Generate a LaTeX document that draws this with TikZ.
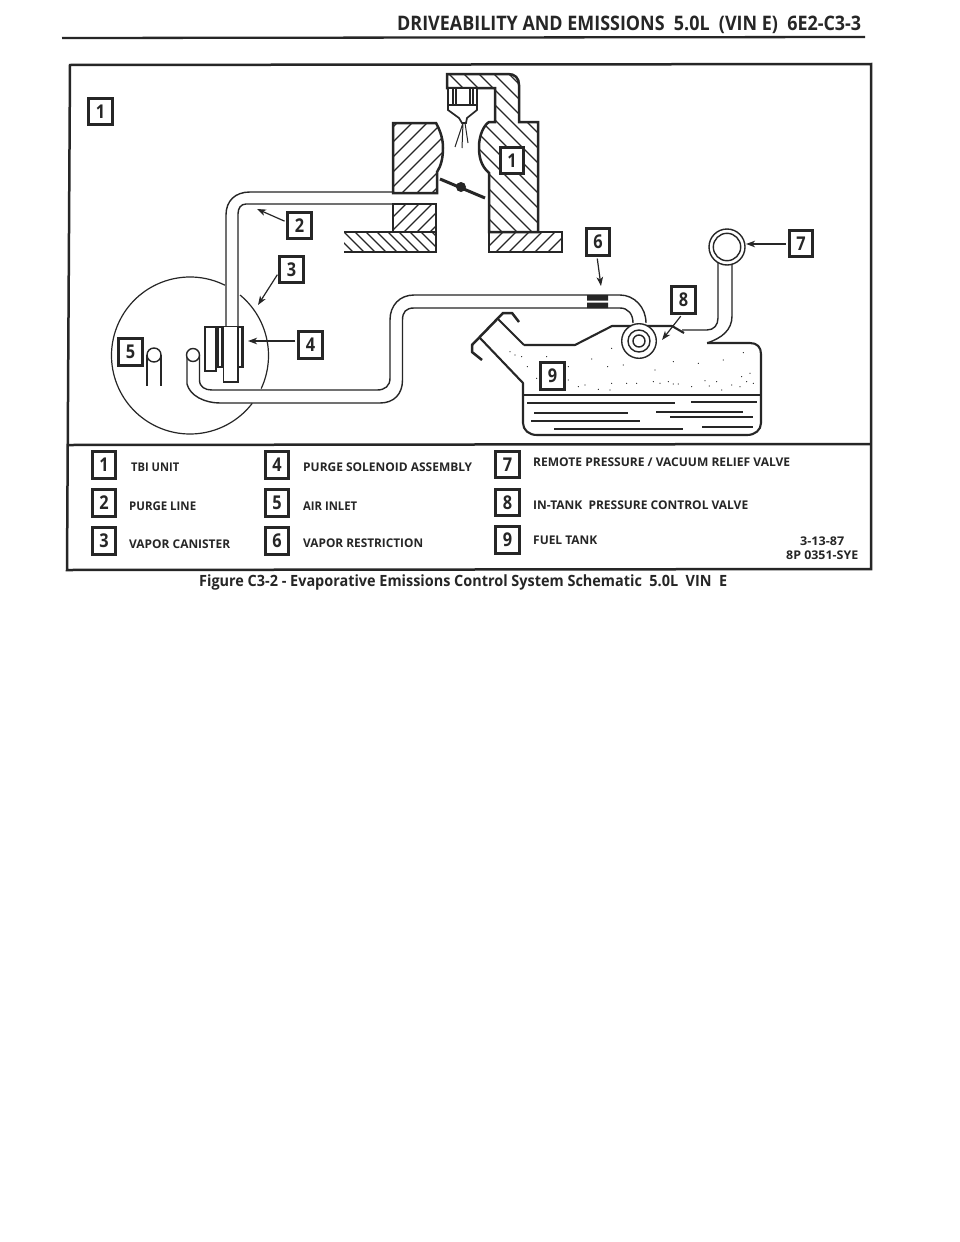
\documentclass[tikz,border=0pt]{standalone}
\usepackage{fontspec}
\usepackage{graphicx}
\setmainfont{Open Sans}
\usetikzlibrary{arrows.meta}
\definecolor{ink}{HTML}{262626}
\newcommand{\fitw}[2]{\resizebox{#1pt}{\height}{#2}}
\newcommand{\digit}[1]{\scalebox{0.86}[1]{#1}}
% hatching inside the current clip: lines at 45 degrees
\newcommand{\hatchne}[5]{\foreach \k in {#1,#5,...,#2}{\draw[hatchline] (\k,#4) -- ++(#4-#3,#3-#4);}}
\newcommand{\hatchnw}[5]{\foreach \k in {#1,#5,...,#2}{\draw[hatchline] (\k,#3) -- ++(#4-#3,#4-#3);}}
\tikzset{
  x=1pt,y=-1pt,
  hatchline/.style={draw=ink,line width=1.2pt},
  wall/.style={draw=ink,line width=2.5pt,line join=miter},
  tube/.style={draw=ink,line width=1.4pt},
  tankline/.style={draw=ink,line width=2.1pt,line join=round},
  fluid/.style={draw=ink,line width=1.1pt},
  numbox/.style={draw=ink,line width=2.6pt,fill=white,minimum width=23.5pt,minimum height=26.5pt,inner sep=0pt,text=ink,font=\fontsize{19}{19}\selectfont\bfseries},
  legend/.style={anchor=west,inner sep=0pt,text=ink,font=\fontsize{12}{12}\selectfont\bfseries},
  pointer/.style={draw=ink,line width=1.2pt,-{Stealth[length=9pt,width=6.5pt,inset=2.5pt]},shorten <=2pt},
}
\begin{document}
\begin{tikzpicture}
\useasboundingbox (0,0) rectangle (960,1242);
\fill[white] (0,0) rectangle (960,1242);
% header
\node[anchor=west,inner sep=0pt,text=ink,font=\fontsize{20}{20}\selectfont\bfseries] (title) at (397,25) {\fitw{464}{DRIVEABILITY AND EMISSIONS\ \ 5.0L\ \ (VIN E)\ \ 6E2-C3-3}};
\draw[ink,line width=2.3pt] (62,38) -- (865,37);
% frame
\draw[ink,line width=2.5pt] (70,65) -- (871,64) -- (871,569) -- (67,570) -- cycle;
\draw[ink,line width=2.5pt] (69,445) -- (871,444);
% TBI body
\begin{scope}
\clip (447,74) -- (508,74) .. controls (515,74) and (519,78) .. (519,85) -- (519,122) -- (538,122) -- (538,232) -- (489,232) -- (489,173) .. controls (480,165) and (479,155) .. (479,147) .. controls (479,135) and (484,125) .. (489,122) -- (495,122) -- (495,88) -- (447,88) -- cycle;
\hatchnw{270}{540}{60}{240}{285}
\end{scope}
\draw[wall] (447,74) -- (508,74) .. controls (515,74) and (519,78) .. (519,85) -- (519,122) -- (538,122) -- (538,232) -- (489,232) -- (489,173) .. controls (480,165) and (479,155) .. (479,147) .. controls (479,135) and (484,125) .. (489,122) -- (495,122) -- (495,88) -- (447,88) -- cycle;
% injector
\draw[wall,fill=white] (448,88) rectangle (477,105);
\draw[ink,line width=1.2pt] (453,89) -- (453,104) (456,89) -- (456,104) (470,89) -- (470,104) (473,89) -- (473,104);
\draw[tube,line width=1.7pt] (448,105) -- (448,110) -- (459,118) -- (462,123) -- (466,123) -- (467,118) -- (477,110) -- (477,105);
\draw[ink,line width=1pt] (463,123) -- (455,147) (463,123) -- (462,148) (465,123) -- (468,143);
% left upper block
\begin{scope}
\clip (393,123) -- (436,123) .. controls (441,132) and (443,140) .. (443,148) .. controls (443,158) and (441,166) .. (437,172) -- (437,193) -- (393,193) -- cycle;
\hatchne{320}{450}{120}{200}{335}
\end{scope}
\draw[wall] (393,123) -- (436,123) .. controls (441,132) and (443,140) .. (443,148) .. controls (443,158) and (441,166) .. (437,172) -- (437,193) -- (393,193) -- cycle;
% lower left block
\begin{scope}
\clip (393,204) rectangle (436,232);
\hatchne{370}{450}{200}{240}{383}
\end{scope}
\draw[wall] (393,204) rectangle (436,232);
% left base
\begin{scope}
\clip (344,232) rectangle (436,252);
\hatchnw{320}{440}{230}{255}{331}
\end{scope}
\draw[wall] (344,232) -- (436,232) -- (436,252) -- (344,252);
% right base
\begin{scope}
\clip (489,232) rectangle (562,252);
\hatchne{480}{590}{230}{255}{493}
\end{scope}
\draw[wall] (489,232) rectangle (562,252);
% throttle plate
\draw[ink,line width=3pt] (440,179) -- (485,198);
\fill[ink] (461,187) circle[radius=5];
% purge line
\draw[tube] (393,192) -- (250,192) .. controls (235,192) and (226,201) .. (226,215) -- (226,327);
\draw[tube] (393,204) -- (246,204) .. controls (241,204) and (238,208) .. (238,214) -- (238,327);
% canister circle
\draw[ink,line width=1.2pt] (190,355.5) ++(-63.6:78.5) arc[start angle=-63.6,end angle=-322.5,radius=78.5];
\draw[ink,line width=1.2pt] (190,355.5) ++(-50.4:78.5) arc[start angle=-50.4,end angle=24.9,radius=78.5];
% solenoid
\draw[ink,line width=1.9pt,fill=white] (205,327) rectangle (216,371);
\draw[ink,line width=1.4pt,fill=white] (218,327) rectangle (243,367);
\draw[ink,line width=1.4pt] (222,327) -- (222,367);
\fill[ink] (240.5,327) rectangle (243.5,367);
\draw[ink,line width=1.7pt,fill=white] (223.5,327) -- (223.5,382) -- (238,382) -- (238,327);
% air inlet
\draw[tube] (147,355) -- (147,386) (161,355) -- (161,386);
\draw[tube,fill=white] (154,355) circle[radius=7];
% vapor line
\draw[tube] (199.5,355) -- (199.5,380) .. controls (199.5,387) and (205,390) .. (212,390) -- (377,390) .. controls (385,390) and (390,386) .. (390,378) -- (390,320) .. controls (390,305) and (400,295) .. (414,295) -- (620,295) .. controls (634,295) and (646,307) .. (646,323);
\draw[tube] (187,355) -- (187,384) .. controls (190,396) and (205,403) .. (220,403) -- (380,403) .. controls (394,403) and (402.5,394) .. (402.5,380) -- (402.5,320) .. controls (402.5,312) and (406,308) .. (414,308) -- (620,308) .. controls (628,308) and (633,314) .. (633,323);
\draw[tube,fill=white] (193,355) circle[radius=6.5];
% restriction
\fill[ink] (587,295) rectangle (608,300.5) (587,302.5) rectangle (608,308);
% fuel tank
\draw[tankline] (524,345) -- (575,345) -- (612,326) -- (672,326) -- (684,333);
\draw[tankline] (707,343) -- (750,343) .. controls (757,343) and (761,347) .. (761,354) -- (761,423) .. controls (761,430) and (755,435) .. (747,435) -- (537,435) .. controls (529,435) and (523,430) .. (523,423) -- (523,383) -- (480,338);
\draw[tankline] (497,318) -- (524,345);
\draw[tankline,line width=2.5pt] (482,360) -- (472,352) -- (472,345) -- (503,313) -- (512,313) -- (519,322);
\draw[ink,line width=1.2pt] (523,395) -- (761,395);
\draw[fluid] (527,403) -- (675,403) (691,402) -- (757,402) (534,413) -- (628,413) (656,412) -- (743,412) (670,417) -- (753,417) (531,421) -- (640,421) (554,429) -- (683,429) (702,427) -- (753,427);
\foreach \a/\b in {210/425,225/435,245/440,320/440,262/470,385/470,455/447,503/470,515/415,550/465,645/480,700/455,775/460,850/450,910/428,930/490,905/500,290/505,385/510,415/530,435/525,475/538,515/520,560/520,590/520,640/515,660/520,685/515,700/522,715/522,755/530,795/512,808/528,830/515,845/540,875/525,900/530,920/515,940/520,510/540}
  \fill[ink] ({440+\a/3},{210+\b/3}) circle[radius=0.6];
% in-tank valve
\draw[tube,fill=white] (639,341) circle[radius=17.3];
\draw[tube] (639,341) circle[radius=11];
\draw[tube] (639,341) circle[radius=6];
% vent pipe and relief valve
\draw[tube] (682,330) -- (707,330) .. controls (714,330) and (718,325) .. (718,318) -- (718,262);
\draw[tube] (707,343) .. controls (722,338) and (732,330) .. (732,316) -- (732,262);
\draw[tube,fill=white] (727,247) circle[radius=18];
\draw[tube] (727,247) circle[radius=13.7];
% callouts
\node[numbox] (n1top) at (100.5,111.5) {\digit{1}};
\node[numbox] (n1) at (512,160.5) {\digit{1}};
\node[numbox] (n2) at (299.5,225.5) {\digit{2}};
\node[numbox] (n3) at (291.5,269.5) {\digit{3}};
\node[numbox] (n4) at (310.5,345) {\digit{4}};
\node[numbox] (n5) at (130.5,352) {\digit{5}};
\node[numbox] (n6) at (598,242) {\digit{6}};
\node[numbox] (n7) at (801,243.5) {\digit{7}};
\node[numbox] (n8) at (683.5,300) {\digit{8}};
\node[numbox] (n9) at (552.5,376) {\digit{9}};
\coordinate (tip2) at (257,209);
\coordinate (tip3) at (258,305);
\coordinate (tip4) at (248,341);
\coordinate (tip6) at (601,286);
\coordinate (tip7) at (746,244);
\coordinate (tip8) at (662,340);
\draw[pointer] (n2.west |- 0,222) -- (tip2);
\draw[pointer] (n3.-165) -- (tip3);
\draw[pointer] (n4.west |- 0,341) -- (tip4);
\draw[pointer] (n6.south -| 597,0) -- (tip6);
\draw[pointer] (n7.west |- 0,244) -- (tip7);
\draw[pointer] (n8.south -| 682,0) -- (tip8);
% legend
\node[numbox] (k1) at (104,465) {\digit{1}};
\node[numbox] (k2) at (104,503) {\digit{2}};
\node[numbox] (k3) at (104,541) {\digit{3}};
\node[numbox] (k4) at (277,465) {\digit{4}};
\node[numbox] (k5) at (277,503) {\digit{5}};
\node[numbox] (k6) at (277,541) {\digit{6}};
\node[numbox] (k7) at (507.5,464.5) {\digit{7}};
\node[numbox] (k8) at (507.5,502.5) {\digit{8}};
\node[numbox] (k9) at (507.5,540) {\digit{9}};
\node[legend] (l1) at (131,467) {\fitw{48}{TBI UNIT}};
\node[legend] (l2) at (129,506) {\fitw{67}{PURGE LINE}};
\node[legend] (l3) at (129,544) {\fitw{101}{VAPOR CANISTER}};
\node[legend] (l4) at (303,467) {\fitw{169}{PURGE SOLENOID ASSEMBLY}};
\node[legend] (l5) at (303,506) {\fitw{54}{AIR INLET}};
\node[legend] (l6) at (303,543) {\fitw{120}{VAPOR RESTRICTION}};
\node[legend] (l7) at (533,462) {\fitw{257}{REMOTE PRESSURE / VACUUM RELIEF VALVE}};
\node[legend] (l8) at (533,505) {\fitw{215}{IN-TANK\ \ PRESSURE CONTROL VALVE}};
\node[legend] (l9) at (533,540) {\fitw{64}{FUEL TANK}};
\node[legend] (d1) at (800,541) {\fitw{44}{3-13-87}};
\node[legend] (d2) at (786,555) {\fitw{72}{8P 0351-SYE}};
% caption
\node[anchor=west,inner sep=0pt,text=ink,font=\fontsize{15.5}{16}\selectfont\bfseries] (cap) at (199,582) {\fitw{528}{Figure C3-2 - Evaporative Emissions Control System Schematic\ \ 5.0L\ \ VIN\ \ E}};
\end{tikzpicture}
\end{document}
